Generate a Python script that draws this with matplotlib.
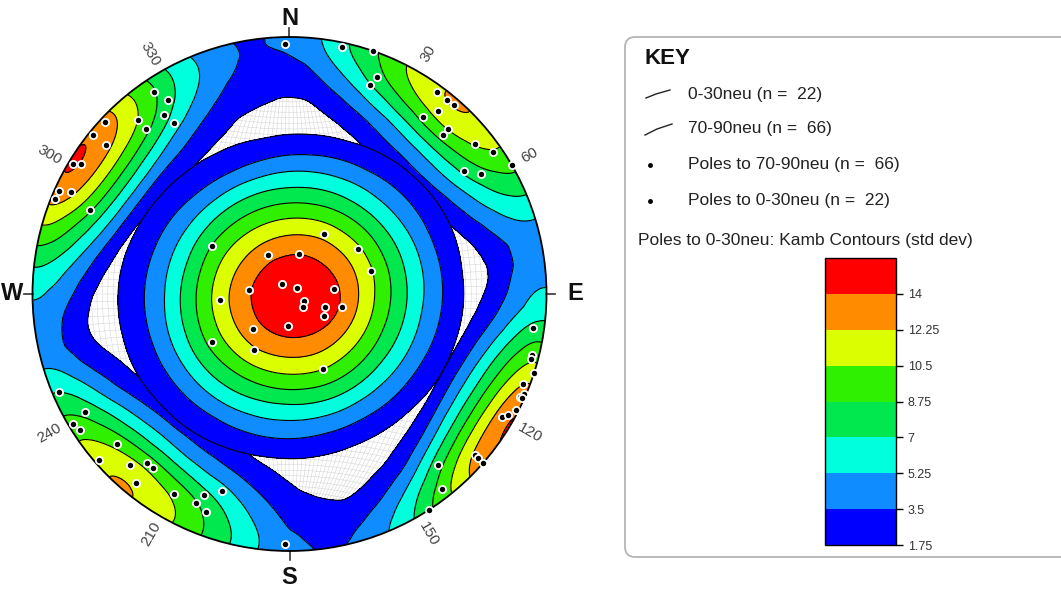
import numpy as np
import matplotlib
matplotlib.use('Agg')
import matplotlib.pyplot as plt
from matplotlib.patches import Circle, FancyBboxPatch

plt.rcParams['font.family'] = ['Liberation Sans', 'DejaVu Sans']

# ---------------- data (pole trend / plunge, degrees) ----------------
poles_0_30_trend = [30, 302, 57, 331, 13, 74, 321, 51, 276, 84, 265,
                    117, 135, 110, 104, 122, 182, 226, 238, 212, 156]
poles_0_30_plunge = [68, 61, 64, 76, 77, 63, 86, 87, 77, 76, 68,
                     85, 84, 78, 73, 77, 80, 74, 61, 69, 64]

poles_70_90_trend = [359,
                     12, 19, 22, 21, 36, 39, 41, 39, 37, 44, 44, 51, 55, 60, 55, 58,
                     326, 328, 325, 319, 326, 319, 313, 309, 309, 302, 301, 294, 295, 292, 293,
                     247, 240, 239, 237, 229, 229, 223, 220, 218, 219, 210, 203, 204, 201, 199,
                     181,
                     98, 104, 105, 108, 111, 113, 114, 114, 117, 120, 119, 131, 131, 131, 139, 142, 147]
poles_70_90_plunge = [3,
                      2, 0, 10, 14, 3, 3, 3, 9, 15, 12, 15, 8, 4, 0, 18, 13,
                      6, 12, 16, 11, 21, 16, 2, 2, 9, 5, 2, 2, 7, 2, 17,
                      3, 9, 2, 3, 12, 2, 10, 15, 15, 6, 11, 16, 12, 10, 20,
                      3,
                      5, 3, 3, 0, 3, 1, 2, 1, 1, 5, 3, 5, 3, 0, 13, 4, 0]

contour_levels = [1.75, 3.5, 5.25, 7, 8.75, 10.5, 12.25, 14]
level_labels = ['1.75', '3.5', '5.25', '7', '8.75', '10.5', '12.25', '14']
contour_colors = ['#0000ff', '#0f8cff', '#00ffdc', '#00e84e',
                  '#2ef000', '#dcff00', '#ff8c00', '#ff0000']
degree_ticks = [30, 60, 120, 150, 210, 240, 300, 330]
compass = ['N', 'E', 'S', 'W']

key_title = 'KEY'
key_entries = ['0-30neu (n =  22)', '70-90neu (n =  66)',
               'Poles to 70-90neu (n =  66)', 'Poles to 0-30neu (n =  22)']
contour_title = 'Poles to 0-30neu: Kamb Contours (std dev)'


# ---------------- helpers ----------------
def pole_vectors(trend, plunge):
    t = np.radians(trend)
    p = np.radians(plunge)
    return np.column_stack([np.cos(p) * np.sin(t), np.cos(p) * np.cos(t), np.sin(p)])


def project(trend, plunge):
    t = np.radians(np.asarray(trend, float))
    th = np.radians(90 - np.asarray(plunge, float))
    r = np.sqrt(2) * np.sin(th / 2)
    return r * np.sin(t), r * np.cos(t)


ng = 601
xs = np.linspace(-1, 1, ng)
GX, GY = np.meshgrid(xs, xs)
RR = np.sqrt(GX ** 2 + GY ** 2)
outside = RR > 1.0
rr = np.clip(RR, 0, 1)
th = 2 * np.arcsin(rr / np.sqrt(2))
az = np.arctan2(GX, GY)
G = np.stack([np.sin(th) * np.sin(az), np.sin(th) * np.cos(az), np.cos(th)], axis=-1).reshape(-1, 3)


def kamb_density(vectors, radius_deg, scale):
    # axial data: |cos| so the counting cone wraps across the primitive
    dots = np.clip(np.abs(G @ vectors.T), 0, 1)
    ang = np.degrees(np.arccos(dots))
    w = np.clip(1.0 - ang / radius_deg, 0, None)
    d = scale * w.sum(axis=1)
    return np.ma.masked_where(outside, d.reshape(GX.shape))


dens_steep = kamb_density(pole_vectors(poles_70_90_trend, poles_70_90_plunge), 38.0, 0.71)
dens_flat = kamb_density(pole_vectors(poles_0_30_trend, poles_0_30_plunge), 54.0, 1.07)

fill_levels = contour_levels + [1000.0]

# ---------------- figure ----------------
W, H = 1061, 591
fig = plt.figure(figsize=(W / 100, H / 100), dpi=100)

cx, cy, R = 289.5, 294.0, 257.0
lim = 1.12
ax = fig.add_axes([(cx - lim * R) / W, (H - cy - lim * R) / H, 2 * lim * R / W, 2 * lim * R / H])
ax.set_xlim(-lim, lim)
ax.set_ylim(-lim, lim)
ax.set_aspect('equal')
ax.axis('off')

clip = Circle((0, 0), 1.0, transform=ax.transData, fc='none', ec='none')
ax.add_patch(clip)

# background net
phi = np.radians(np.linspace(-90, 90, 181))
for lon in range(-88, 90, 2):
    lam = np.radians(lon)
    nvec = np.sin(phi); evec = np.cos(phi) * np.sin(lam); dvec = np.cos(phi) * np.cos(lam)
    tt = np.degrees(np.arctan2(evec, nvec)); pp = np.degrees(np.arcsin(np.clip(dvec, -1, 1)))
    x, y = project(tt, pp)
    ax.plot(x, y, color='#d2d2d2', lw=0.35, zorder=0.5)
lam_all = np.radians(np.linspace(-90, 90, 181))
for lat in range(-88, 90, 2):
    ph = np.radians(lat)
    nvec = np.sin(ph) * np.ones_like(lam_all); evec = np.cos(ph) * np.sin(lam_all); dvec = np.cos(ph) * np.cos(lam_all)
    tt = np.degrees(np.arctan2(evec, nvec)); pp = np.degrees(np.arcsin(np.clip(dvec, -1, 1)))
    x, y = project(tt, pp)
    ax.plot(x, y, color='#d2d2d2', lw=0.35, zorder=0.5)

cf1 = ax.contourf(GX, GY, dens_steep, levels=fill_levels, colors=contour_colors, zorder=1)
cl1 = ax.contour(GX, GY, dens_steep, levels=contour_levels, colors='black', linewidths=0.8, zorder=1.5)
cf2 = ax.contourf(GX, GY, dens_flat, levels=fill_levels, colors=contour_colors, zorder=2)
cl2 = ax.contour(GX, GY, dens_flat, levels=contour_levels, colors='black', linewidths=0.8, zorder=2.5)
for c in (cf1, cl1, cf2, cl2):
    c.set_clip_path(clip)

ax.add_patch(Circle((0, 0), 1.0, fc='none', ec='black', lw=1.3, zorder=4))

# poles
for tr, pl in ((poles_70_90_trend, poles_70_90_plunge), (poles_0_30_trend, poles_0_30_plunge)):
    x, y = project(tr, pl)
    ax.plot(x, y, 'o', ms=5.2, mfc='black', mec='white', mew=1.3, zorder=5, clip_on=False)

# compass
label_r = {'N': 1.072, 'E': 1.11, 'S': 1.105, 'W': 1.078}
for i, lab in enumerate(compass):
    a = np.radians(90 * i)
    sa, ca = np.sin(a), np.cos(a)
    ax.plot([sa * 1.0, sa * 1.035], [ca * 1.0, ca * 1.035], color='#333333', lw=1.2, clip_on=False)
    rl = label_r[lab]
    ax.text(sa * rl, ca * rl, lab, ha='center', va='center', fontsize=17, fontweight='bold',
            color='#111111', clip_on=False)

for d in degree_ticks:
    a = np.radians(d)
    rot = 90 - d
    while rot > 90:
        rot -= 180
    while rot <= -90:
        rot += 180
    ax.text(np.sin(a) * 1.08, np.cos(a) * 1.08, str(d), ha='center', va='center',
            rotation=rot, rotation_mode='anchor', fontsize=11, color='#444444', clip_on=False)

# ---------------- key ----------------
ov = fig.add_axes([0, 0, 1, 1], zorder=-1)
ov.set_xlim(0, W)
ov.set_ylim(H, 0)
ov.axis('off')
ov.add_patch(FancyBboxPatch((625, 37), 470, 520, boxstyle='round,pad=0,rounding_size=10',
                            fc='white', ec='#b5b5b5', lw=1.3))
ov.text(645, 59, key_title, fontsize=16, fontweight='bold', va='center', ha='left', color='#111111')
ys = [94, 129, 165, 201]
ov.plot([646, 656, 670], [98, 94, 90], color='#222222', lw=1.0)
ov.plot([645, 657, 672], [135, 129, 124], color='#222222', lw=1.0)
ov.plot([650, 650], [165, 201], 'o', ms=2.5, color='black', ls='none')
for yv, t in zip(ys, key_entries):
    ov.text(688, yv, t, fontsize=12.5, va='center', ha='left', color='#222222')
ov.text(638, 241, contour_title, fontsize=12.5, va='center', ha='left', color='#222222')

cax = fig.add_axes([825 / W, (H - 545) / H, 71 / W, 287 / H])
cb = fig.colorbar(cf2, cax=cax, spacing='uniform', ticks=contour_levels)
cb.ax.set_yticklabels(level_labels)
cb.ax.tick_params(labelsize=9, labelcolor='#333333', length=5, width=1)
cb.outline.set_linewidth(1.0)

fig.savefig('out.png', dpi=100)
